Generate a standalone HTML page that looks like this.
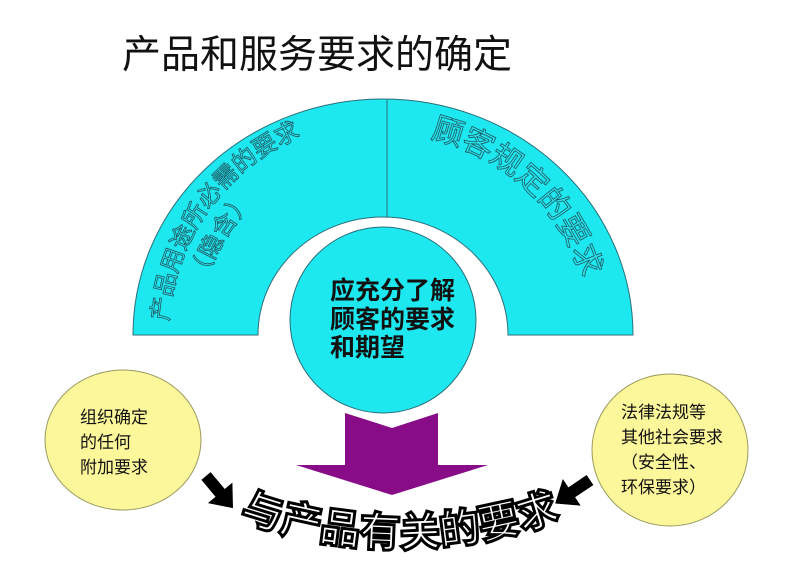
<!DOCTYPE html>
<html><head><meta charset="utf-8"><style>
html,body{margin:0;padding:0;background:#fff;}
svg{display:block;}
text{font-family:"Liberation Sans","Noto Sans CJK SC",sans-serif;}
</style></head><body>
<svg width="800" height="566" viewBox="0 0 800 566" xmlns="http://www.w3.org/2000/svg">
<defs>
<path id="pl1" d="M 168 335 A 215 215 0 0 1 598 335"/>
<path id="pl2" d="M 198 335 A 185 185 0 0 1 568 335"/>
<path id="pr1" d="M 178 340 A 207 207 0 0 1 592 340"/>
<path id="pb" d="M 200 503 A 480 480 0 0 0 600 503"/>
</defs>
<text x="122" y="68" font-size="39" fill="#111">产品和服务要求的确定</text>
<path d="M 133 335 A 250 236 0 0 1 633 335 L 508 335 A 125 118 0 0 0 258 335 Z" fill="#1ee8ef" stroke="#2a6f7a" stroke-width="1"/>
<line x1="387" y1="99" x2="387" y2="217" stroke="#2a6f7a" stroke-width="1"/>
<text font-size="24" fill="#2ae6ee" stroke="#1d5560" stroke-width="0.8"><textPath href="#pl1" startOffset="2%">产品用途所必需的要求</textPath></text>
<text font-size="24" fill="#2ae6ee" stroke="#1d5560" stroke-width="0.8"><textPath href="#pl2" startOffset="9%">（隐含）</textPath></text>
<text font-size="31" fill="#2ae6ee" stroke="#1d5560" stroke-width="0.8"><textPath href="#pr1" startOffset="57%">顾客规定的要求</textPath></text>
<circle cx="383" cy="320" r="93" fill="#1ee8ef" stroke="#2a6f7a" stroke-width="1"/>
<text font-size="25" font-weight="bold" fill="#111">
<tspan x="330" y="299">应充分了解</tspan>
<tspan x="330" y="328">顾客的要求</tspan>
<tspan x="330" y="356">和期望</tspan>
</text>
<ellipse cx="123" cy="440" rx="78" ry="70" fill="#fcf79a" stroke="#9a9a60" stroke-width="1"/>
<text font-size="17" fill="#111"><tspan x="80" y="423">组织确定</tspan><tspan x="80" y="448">的任何</tspan><tspan x="80" y="473">附加要求</tspan></text>
<ellipse cx="670" cy="450" rx="78" ry="76" fill="#fcf79a" stroke="#9a9a60" stroke-width="1"/>
<text font-size="17" fill="#111"><tspan x="621" y="418">法律法规等</tspan><tspan x="621" y="443">其他社会要求</tspan><tspan x="621" y="468">（安全性、</tspan><tspan x="621" y="493">环保要求）</tspan></text>
<polygon points="345,413 392,428 438,413 438,465 488,465 392,495 296,465 345,465" fill="#880c88"/>
<polygon transform="translate(206,476) rotate(50)" points="0,-6 22,-6 22,-16 42,0 22,16 22,6 0,6" fill="#000"/>
<polygon transform="translate(590,480) rotate(146)" points="0,-6 22,-6 22,-16 42,0 22,16 22,6 0,6" fill="#000"/>
<text font-size="41" font-weight="bold" fill="#fff" stroke="#000" stroke-width="3"><textPath href="#pb" startOffset="50%" text-anchor="middle">与产品有关的要求</textPath></text>
</svg>
</body></html>
